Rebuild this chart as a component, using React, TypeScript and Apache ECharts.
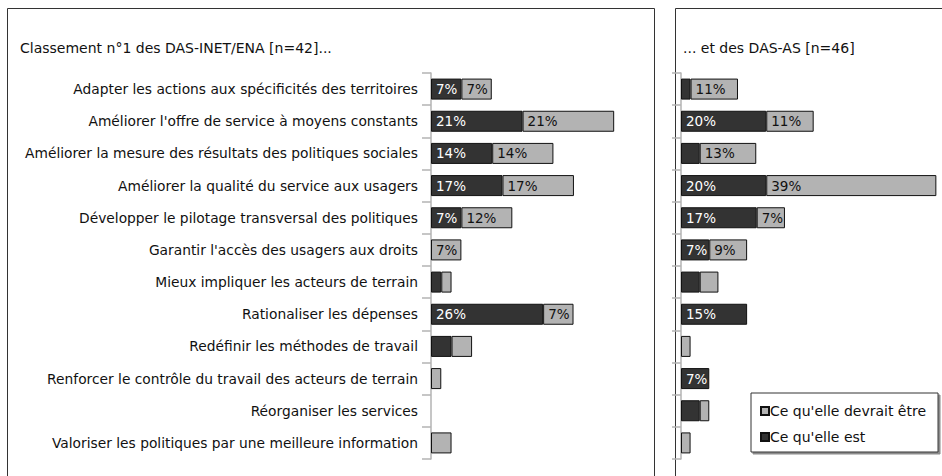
import React, { useEffect, useRef } from "react";
import * as echarts from "echarts";

const categories = [
  "Adapter les actions aux spécificités des territoires",
  "Améliorer l'offre de service à moyens constants",
  "Améliorer la mesure des résultats des politiques sociales",
  "Améliorer la qualité du service aux usagers",
  "Développer le pilotage transversal des politiques",
  "Garantir l'accès des usagers aux droits",
  "Mieux impliquer les acteurs de terrain",
  "Rationaliser les dépenses",
  "Redéfinir les méthodes de travail",
  "Renforcer le contrôle du travail des acteurs de terrain",
  "Réorganiser les services",
  "Valoriser les politiques par une meilleure information",
];

const seriesNames = ["Ce qu'elle est", "Ce qu'elle devrait être"];
const titles = ["Classement n°1 des DAS-INET/ENA [n=42]...", "... et des DAS-AS [n=46]"];

// DAS-INET/ENA (n=42), in %
const inetEst = [7.1, 21.4, 14.3, 16.7, 7.1, 0, 2.4, 26.2, 4.8, 0, 0, 0];
const inetDevrait = [7.1, 21.4, 14.3, 16.7, 11.9, 7.1, 2.4, 7.1, 4.8, 2.4, 0, 4.8];
// DAS-AS (n=46), in %
const asEst = [2.2, 19.6, 4.3, 19.6, 17.4, 6.5, 4.3, 15.2, 0, 6.5, 4.3, 0];
const asDevrait = [10.9, 10.9, 13.0, 39.1, 6.5, 8.7, 4.3, 0, 2.2, 0, 2.2, 2.2];

const FONT = "DejaVu Sans";
const DARK = "#333333";
const LIGHT = "#b3b3b3";

export default function App() {
  const ref = useRef<HTMLDivElement>(null);
  useEffect(() => {
    if (!ref.current) return;
    const chart = echarts.init(ref.current, null, { renderer: "svg" });
    const clean = (arr: number[]) => arr.map((v) => (v === 0 ? null : v));
    const mkLabel = (color: string) => ({
      show: true,
      position: "insideLeft" as const,
      distance: 5,
      color,
      fontFamily: FONT,
      fontSize: 13.5,
      formatter: (p: any) => (p.value >= 5 ? Math.round(p.value) + "%" : ""),
    });
    const mkSeries = (name: string, data: number[], idx: number, color: string, labelColor: string, stack: string) => ({
      name,
      type: "bar",
      stack,
      xAxisIndex: idx,
      yAxisIndex: idx,
      barWidth: 21,
      data: clean(data),
      itemStyle: { color, borderColor: "#111", borderWidth: 1 },
      label: mkLabel(labelColor),
    });
    const yAxisBase = (idx: number, showLabel: boolean) => ({
      type: "category",
      gridIndex: idx,
      data: categories,
      inverse: true,
      axisLine: { show: true, lineStyle: { color: "#b3b3b3", width: 1.5 } },
      axisTick: { show: true, length: 9, lineStyle: { color: "#b3b3b3", width: 1.5 } },
      axisLabel: {
        show: showLabel,
        margin: 13,
        color: "#111",
        fontFamily: FONT,
        fontSize: 13.8,
      },
    });
    chart.setOption({
      animation: false,
      backgroundColor: "#ffffff",
      title: [
        {
          text: titles[0],
          left: 20,
          top: 41,
          padding: 0,
          textStyle: { fontFamily: FONT, fontSize: 14, fontWeight: "normal", color: "#111" },
        },
        {
          text: titles[1],
          left: 683,
          top: 41,
          padding: 0,
          textStyle: { fontFamily: FONT, fontSize: 14, fontWeight: "normal", color: "#111" },
        },
      ],
      graphic: [
        {
          type: "rect",
          shape: { x: 7.5, y: 8.5, width: 647, height: 500 },
          style: { fill: "none", stroke: "#333", lineWidth: 1 },
          z: -1,
        },
        {
          type: "rect",
          shape: { x: 675.5, y: 8.5, width: 300, height: 500 },
          style: { fill: "none", stroke: "#333", lineWidth: 1 },
          z: -1,
        },
      ],
      legend: {
        data: [seriesNames[1], seriesNames[0]],
        orient: "vertical",
        left: 751,
        top: 393,
        width: 183,
        padding: [11, 12, 8, 9],
        itemGap: 12,
        itemWidth: 8,
        itemHeight: 8,
        icon: "rect",
        backgroundColor: "#fff",
        borderColor: "#333",
        borderWidth: 1,
        shadowColor: "rgba(0,0,0,0.45)",
        shadowOffsetX: 2,
        shadowOffsetY: 2,
        shadowBlur: 1,
        textStyle: { fontFamily: FONT, fontSize: 14, color: "#111", padding: [0, 0, 0, -4] },
      },
      grid: [
        { left: 431, top: 73, width: 214, height: 386 },
        { left: 681, top: 73, width: 261, height: 386 },
      ],
      xAxis: [
        { type: "value", gridIndex: 0, min: 0, max: 50, show: false },
        { type: "value", gridIndex: 1, min: 0, max: 60, show: false },
      ],
      yAxis: [yAxisBase(0, true), yAxisBase(1, false)],
      series: [
        mkSeries(seriesNames[0], inetEst, 0, DARK, "#ffffff", "a"),
        mkSeries(seriesNames[1], inetDevrait, 0, LIGHT, "#111111", "a"),
        mkSeries(seriesNames[0], asEst, 1, DARK, "#ffffff", "b"),
        mkSeries(seriesNames[1], asDevrait, 1, LIGHT, "#111111", "b"),
      ],
    });
    return () => chart.dispose();
  }, []);
  return (
    <div
      ref={ref}
      style={{ position: "fixed", left: 0, top: 0, width: 942, height: 476, background: "#fff" }}
    />
  );
}
